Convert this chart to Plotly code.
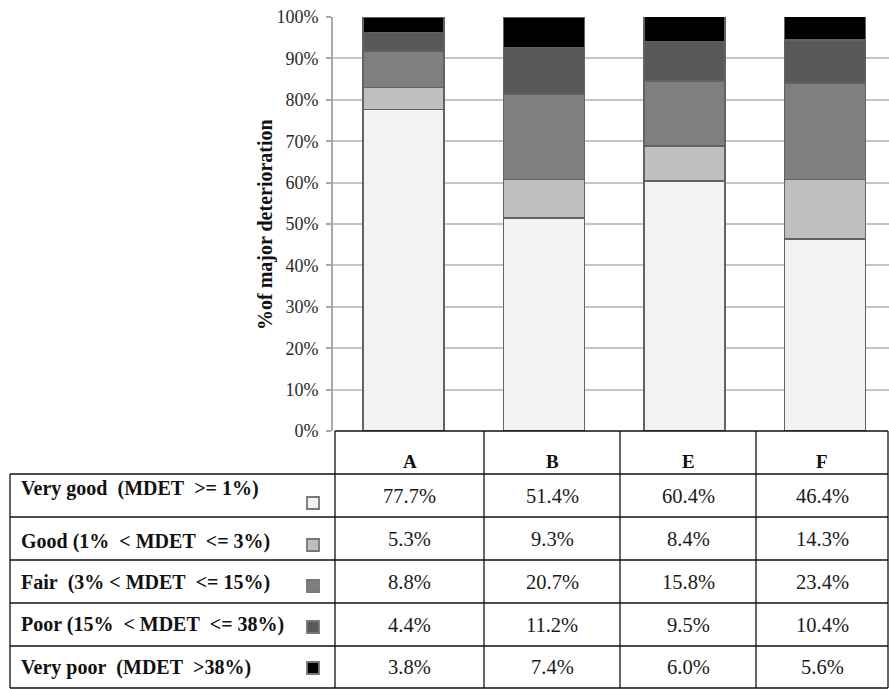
import plotly.graph_objects as go

# ---------------- data ----------------
sites = ["A", "B", "E", "F"]
classes = [
    "Very good  (MDET  &gt;= 1%)",
    "Good (1%  &lt; MDET  &lt;= 3%)",
    "Fair  (3% &lt; MDET  &lt;= 15%)",
    "Poor (15%  &lt; MDET  &lt;= 38%)",
    "Very poor  (MDET  &gt;38%)",
]
very_good = [77.7, 51.4, 60.4, 46.4]
good = [5.3, 9.3, 8.4, 14.3]
fair = [8.8, 20.7, 15.8, 23.4]
poor = [4.4, 11.2, 9.5, 10.4]
very_poor = [3.8, 7.4, 6.0, 5.6]
series = [very_good, good, fair, poor, very_poor]
colors = ["#f2f2f2", "#bfbfbf", "#7f7f7f", "#595959", "#000000"]
tick_vals = [0, 10, 20, 30, 40, 50, 60, 70, 80, 90, 100]
tick_text = ["0%", "10%", "20%", "30%", "40%", "50%", "60%", "70%", "80%", "90%", "100%"]

# ---------------- layout constants (pixels) ----------------
W, H = 889, 689
FONT = "Liberation Serif"


def px(x):
    return x / W


def py(y):
    return 1 - y / H


plot_left, plot_right = 333, 889
plot_top, plot_bottom = 17, 431
table_col_edges = [335, 484, 620, 756, 888]
table_left = 10
table_row_edges = [474, 517, 560, 603, 646, 688]
table_header_top = 431

fig = go.Figure()
for name, vals, col in zip(classes, series, colors):
    fig.add_trace(go.Bar(
        x=sites, y=vals, name=name,
        marker=dict(color=col, line=dict(color="#626262", width=1.5)),
        showlegend=False, hoverinfo="x+y",
    ))

fig.update_layout(
    width=W, height=H,
    margin=dict(l=0, r=0, t=0, b=0, autoexpand=False),
    paper_bgcolor="white", plot_bgcolor="white",
    barmode="stack", bargap=0.423,
    font=dict(family=FONT, color="#262626"),
)
fig.update_xaxes(domain=[px(plot_left), px(plot_right)], range=[-0.502, 3.456],
                 showticklabels=False, showgrid=False, zeroline=False, showline=False)
fig.update_yaxes(domain=[py(plot_bottom), py(plot_top)], range=[0, 100],
                 tickmode="array", tickvals=tick_vals, ticktext=tick_text,
                 showgrid=True, gridcolor="#c4c4c4", gridwidth=1.8,
                 showline=True, linecolor="#a8a8a8", linewidth=1.8,
                 ticks="outside", ticklen=5, tickcolor="#a8a8a8", tickwidth=1.8,
                 ticklabelstandoff=4,
                 zeroline=False, automargin=False,
                 tickfont=dict(family=FONT, size=18, color="#2a2a2a"))

# y axis title
fig.add_annotation(x=px(265), y=py(225), xref="paper", yref="paper",
                   xanchor="center", yanchor="middle",
                   text="<b>%of major deterioration</b>", textangle=-90,
                   showarrow=False, font=dict(family=FONT, size=20, color="#111111"))

# ---------------- data table ----------------
line = dict(color="#111111", width=1.3)
shapes = []
shapes.append(dict(type="line", xref="paper", yref="paper",
                   x0=px(table_col_edges[0]), x1=px(table_col_edges[-1]),
                   y0=py(table_header_top), y1=py(table_header_top), line=line))
for ye in table_row_edges:
    shapes.append(dict(type="line", xref="paper", yref="paper",
                       x0=px(table_left), x1=px(table_col_edges[-1]),
                       y0=py(ye), y1=py(ye), line=line))
for xe in table_col_edges:
    shapes.append(dict(type="line", xref="paper", yref="paper",
                       x0=px(xe), x1=px(xe),
                       y0=py(table_header_top), y1=py(table_row_edges[-1]), line=line))
shapes.append(dict(type="line", xref="paper", yref="paper",
                   x0=px(table_left), x1=px(table_left),
                   y0=py(table_row_edges[0]), y1=py(table_row_edges[-1]), line=line))

for j, s in enumerate(sites):
    cx = (table_col_edges[j] + table_col_edges[j + 1]) / 2
    fig.add_annotation(x=px(cx), y=py(461), xref="paper", yref="paper",
                       xanchor="center", yanchor="middle",
                       text=f"<b>{s}</b>", showarrow=False,
                       font=dict(family=FONT, size=19, color="#111111"))

key_y = [503, 545, 586, 627, 668]
label_y = [488, 541, 582, 624, 667]
for i, (name, vals, col) in enumerate(zip(classes, series, colors)):
    y0, y1 = table_row_edges[i], table_row_edges[i + 1]
    cy = (y0 + y1) / 2
    fig.add_annotation(x=px(19), y=py(label_y[i]), xref="paper", yref="paper",
                       xanchor="left", yanchor="middle",
                       text=f"<b>{name.replace('  ', '&nbsp; ')}</b>",
                       showarrow=False, font=dict(family=FONT, size=20, color="#111111"))
    shapes.append(dict(type="rect", xref="paper", yref="paper",
                       x0=px(307), x1=px(319), y0=py(key_y[i] - 6), y1=py(key_y[i] + 6),
                       fillcolor=col, line=dict(color="#777777", width=1.8)))
    for j, v in enumerate(vals):
        cx = (table_col_edges[j] + table_col_edges[j + 1]) / 2
        fig.add_annotation(x=px(cx), y=py(cy), xref="paper", yref="paper",
                           xanchor="center", yanchor="middle",
                           text=f"{v:.1f}%", showarrow=False,
                           font=dict(family=FONT, size=20.5, color="#1a1a1a"))

fig.update_layout(shapes=shapes)
fig.write_html("out.html", config={"displayModeBar": False},
               post_script="document.body.style.margin='0';")
